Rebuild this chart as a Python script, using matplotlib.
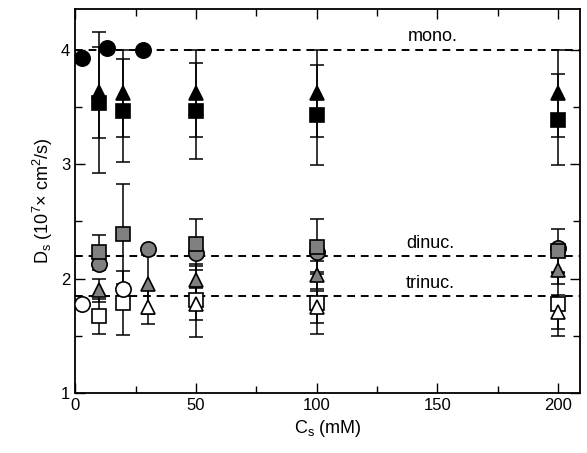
import matplotlib.pyplot as plt
import numpy as np

plt.rcParams['font.family'] = ['Liberation Sans', 'DejaVu Sans']
plt.rcParams['mathtext.fontset'] = 'custom'
plt.rcParams['mathtext.rm'] = 'Liberation Sans'
plt.rcParams['mathtext.it'] = 'Liberation Sans'

# mononucleosome
mono_circ_x = [3, 13, 28]
mono_circ_y = [3.93, 4.02, 4.00]
mono_tri_x = [10, 20, 50, 100, 200]
mono_tri_y = [3.63, 3.62, 3.62, 3.62, 3.62]
mono_tri_err = [0.40, 0.38, 0.38, 0.38, 0.38]
mono_sq_x = [10, 20, 50, 100, 200]
mono_sq_y = [3.54, 3.47, 3.47, 3.43, 3.39]
mono_sq_err = [0.62, 0.45, 0.42, 0.44, 0.40]

# dinucleosome (gray)
di_sq_x = [10, 20, 50, 100, 200]
di_sq_y = [2.23, 2.39, 2.30, 2.28, 2.24]
di_sq_err = [0.15, 0.44, 0.22, 0.24, 0.19]
di_circ_x = [10, 30, 50, 100, 200]
di_circ_y = [2.13, 2.26, 2.22, 2.23, 2.27]
di_tri_x = [10, 30, 50, 100, 200]
di_tri_y = [1.90, 1.95, 1.99, 2.03, 2.08]
di_tri_err = [0.10, 0.26, 0.12, 0.12, 0.13]

# trinucleosome (white)
tri_sq_x = [10, 20, 50, 100, 200]
tri_sq_y = [1.67, 1.79, 1.81, 1.79, 1.78]
tri_sq_err = [0.15, 0.28, 0.32, 0.27, 0.28]
tri_tri_x = [30, 50, 100, 200]
tri_tri_y = [1.75, 1.78, 1.75, 1.71]
tri_tri_err = [0.15, 0.14, 0.14, 0.15]
tri_circ_x = [3, 20]
tri_circ_y = [1.78, 1.91]

mono_level = 4.0
di_level = 2.2
tri_level = 1.85

fig = plt.figure(figsize=(5.87, 4.53), dpi=100)
ax = fig.add_axes([0.128, 0.1325, 0.86, 0.848])

for lvl in [mono_level, di_level, tri_level]:
    ax.axhline(lvl, color='black', lw=1.4, ls=(0, (4, 3)), zorder=1)

def series(x, y, err, marker, face, ms=10):
    if err is not None:
        ax.errorbar(x, y, yerr=err, fmt='none', ecolor='black', elinewidth=1.1,
                    capsize=5, capthick=1.1, zorder=2)
    ax.plot(x, y, ls='none', marker=marker, ms=ms, mfc=face, mec='black',
            mew=1.2, zorder=3)

gray = '#808080'
series(tri_sq_x, tri_sq_y, tri_sq_err, 's', 'white', 9.5)
series(tri_tri_x, tri_tri_y, tri_tri_err, '^', 'white', 10)
series(tri_circ_x, tri_circ_y, None, 'o', 'white', 11)
series(di_tri_x, di_tri_y, di_tri_err, '^', gray, 10)
series(di_circ_x, di_circ_y, None, 'o', gray, 11)
series(di_sq_x, di_sq_y, di_sq_err, 's', gray, 9.5)
series(mono_sq_x, mono_sq_y, mono_sq_err, 's', 'black', 9.5)
series(mono_tri_x, mono_tri_y, mono_tri_err, '^', 'black', 10)
series(mono_circ_x, mono_circ_y, None, 'o', 'black', 11)

ax.text(148, 4.04, 'mono.', ha='center', va='bottom', fontsize=13)
ax.text(147, 2.31, 'dinuc.', ha='center', va='center', fontsize=13)
ax.text(147, 1.96, 'trinuc.', ha='center', va='center', fontsize=13)

ax.set_xlim(0, 209)
ax.set_ylim(1, 4.36)
ax.set_xticks([0, 50, 100, 150, 200])
ax.set_xticks([25, 75, 125, 175], minor=True)
ax.set_yticks([1, 2, 3, 4])
ax.set_yticks([1.5, 2.5, 3.5], minor=True)
ax.tick_params(which='both', direction='in', top=True, right=True, labelsize=12, width=1)
ax.tick_params(which='major', length=7)
ax.tick_params(which='minor', length=5)
for s in ax.spines.values():
    s.set_linewidth(1.3)

ax.set_xlabel(r'C$_\mathregular{s}$ (mM)', fontsize=13)
ax.set_ylabel(r'D$_\mathregular{s}$ (10$^\mathregular{7}$× cm$^\mathregular{2}$/s)', fontsize=13)

fig.savefig('out.png', dpi=100)
